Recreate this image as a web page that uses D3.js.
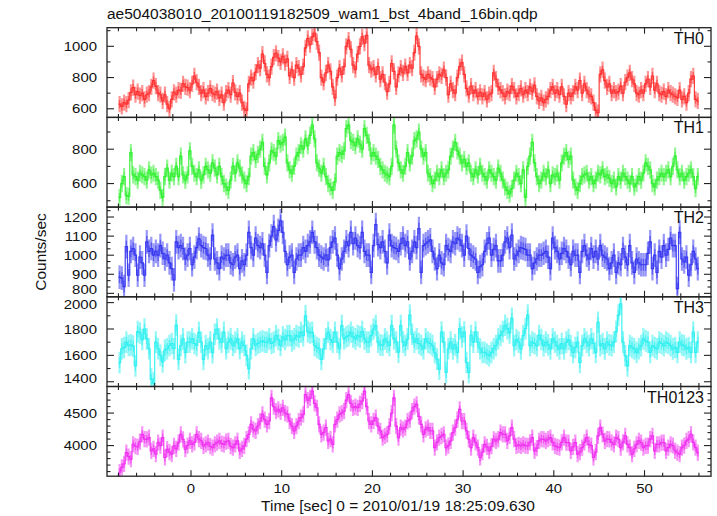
<!DOCTYPE html>
<html><head><meta charset="utf-8">
<script src="https://cdn.jsdelivr.net/npm/d3@7"></script>
<style>
body{margin:0;background:#fff;}
text{font-family:"Liberation Sans",Arial,Helvetica,sans-serif;fill:#111;}
</style></head>
<body><svg id="c" width="717" height="516"></svg>
<script>
// time bins: 0.25 s each, first bin centre at -7.875 s
const binStart = -7.875;
const binWidth = 0.25;
const panelNames = ["TH0", "TH1", "TH2", "TH3", "TH0123"];
const panelColors = ["#ff2a2a", "#2af02a", "#3030f0", "#2af0f0", "#f02af0"];
const yRanges = [[545, 1119], [463, 985], [782, 1252], [1364, 2044], [3529, 4909]];
const majorSteps = [200, 200, 100, 200, 500];
const minorSteps = [100, 100, 100 / 3, 100, 100];
const errTH0 = 52, errTH1 = 50, errTH2 = 62, errTH3 = 82, errTH0123 = 125;
const xMajorTicks = [0, 10, 20, 30, 40, 50];

const TH0 = [
630,615,640,630,655,705,735,690,710,685,700,660,690,700,740,780,
745,700,690,650,690,630,600,660,705,690,720,715,760,740,735,720,
760,810,770,740,700,720,680,700,730,700,690,710,670,690,640,700,
720,690,765,705,680,700,640,600,590,760,800,780,835,880,860,950,
890,820,800,870,930,955,925,900,935,895,920,810,850,800,880,860,
820,870,990,1050,1010,1060,1085,1030,960,800,770,830,880,840,740,670,
800,860,820,870,1000,1040,980,880,850,950,1000,1060,1020,1070,880,850,
860,820,870,790,820,770,710,760,890,840,740,820,860,830,870,830,
880,860,960,1065,1000,820,800,790,820,800,790,740,790,820,810,850,
800,690,760,720,700,800,870,895,820,730,690,745,700,720,680,705,
680,700,660,690,700,830,790,740,720,700,680,710,700,745,720,680,
700,730,690,720,700,740,710,750,680,650,670,640,660,680,720,740,
700,720,690,740,680,630,700,680,700,740,720,780,700,760,720,690,
680,640,590,575,820,850,780,740,760,700,720,700,710,745,700,770,
800,830,790,760,700,690,720,700,760,790,740,810,720,760,700,690,
710,680,720,700,690,680,670,720,660,680,640,700,790,810,660,650];

const TH1 = [
520,600,640,530,525,780,650,640,620,660,650,640,620,680,650,660,
640,620,560,520,640,690,620,660,640,700,640,760,650,620,650,790,
700,660,640,680,620,650,700,680,660,720,690,650,700,640,600,580,
560,620,700,660,720,690,650,620,600,640,760,780,740,770,800,840,
700,650,720,790,780,760,850,830,840,870,720,680,660,700,760,780,
820,800,860,820,880,940,860,720,690,660,700,640,600,580,560,610,
760,780,770,790,920,940,850,840,820,860,830,800,920,880,840,760,
780,760,740,700,680,660,650,640,700,940,800,720,680,660,700,780,
720,760,850,860,900,800,760,780,660,640,600,620,660,640,680,640,
660,680,760,800,840,790,760,720,740,700,720,660,640,680,650,700,
660,640,620,680,660,640,620,690,660,620,580,560,540,570,620,660,
640,600,680,520,700,760,840,720,640,600,620,660,640,680,600,650,
640,660,620,720,760,780,740,760,620,580,560,600,640,650,660,620,
640,600,620,660,650,680,640,650,630,600,620,580,640,620,660,640,
620,600,640,580,600,640,620,660,720,700,680,600,580,620,640,660,
640,660,680,640,700,760,680,640,660,620,640,660,680,640,570,640];

const TH2 = [
885,880,835,1045,895,1020,1035,1000,895,990,960,895,1070,1020,1035,1000,
1020,1000,1050,1010,980,1000,960,930,870,1070,1040,1050,1035,980,1000,1035,
950,990,1040,1085,1050,1040,1035,1000,980,1105,980,960,930,990,980,1000,
1000,960,950,990,1000,930,970,950,1000,1120,1040,1000,1090,1050,1040,1060,
1000,910,1050,1100,1150,1080,1130,1180,1120,1020,950,990,1000,910,980,1000,
1000,1040,1020,1050,1070,1120,1070,1040,1000,990,980,1000,975,1040,1070,1090,
1000,930,980,1020,1070,1050,1120,1060,1090,1050,1040,1120,1020,1000,1000,910,
1050,1160,1055,1040,1070,1020,960,1105,1050,1040,1035,1020,1060,1090,1050,1070,
980,1020,1070,1040,1140,910,1050,1060,1070,1080,1020,980,930,1000,960,950,
1050,1030,1020,1070,1060,1090,1080,1050,1000,1100,1035,1000,990,980,910,940,
950,1020,1060,1090,1000,1030,1050,970,970,1000,1070,1090,1040,1105,980,1000,
1020,1040,1035,1030,1000,1000,930,960,980,1000,1000,1010,1020,990,930,1090,
1040,1020,980,1010,1035,1020,990,950,1020,1000,1000,910,1020,1050,1000,980,
1035,990,1020,980,1050,1000,990,980,930,960,1000,910,960,950,1035,990,
950,1050,960,910,980,960,950,950,950,1010,1070,930,1000,910,1020,990,
1050,1000,1030,1090,1050,1050,825,1120,980,965,990,895,950,1020,980,930];

const TH3 = [
1545,1650,1660,1700,1675,1680,1670,1520,1780,1770,1720,1800,1725,1650,1420,1390,
1700,1650,1600,1550,1640,1650,1675,1690,1650,1830,1570,1675,1725,1620,1700,1700,
1725,1690,1675,1775,1700,1570,1675,1650,1700,1620,1760,1800,1725,1700,1775,1650,
1700,1725,1675,1700,1725,1650,1700,1675,1600,1500,1650,1725,1675,1690,1700,1710,
1700,1700,1725,1690,1700,1750,1720,1675,1740,1720,1750,1750,1710,1725,1750,1740,
1775,1750,1900,1780,1770,1775,1675,1660,1650,1570,1650,1725,1775,1720,1700,1775,
1700,1650,1825,1725,1740,1750,1775,1740,1725,1750,1740,1780,1725,1700,1700,1750,
1800,1825,1700,1680,1675,1725,1700,1675,1825,1725,1700,1625,1825,1700,1675,1725,
1905,1760,1700,1725,1690,1675,1650,1726,1700,1690,1674,1620,1572,1495,1777,1700,
1470,1650,1700,1649,1680,1623,1803,1740,1777,1546,1470,1751,1700,1777,1700,1650,
1623,1623,1610,1597,1623,1650,1674,1726,1751,1780,1828,1803,1770,1880,1674,1720,
1700,1649,1750,1803,1905,1674,1700,1690,1674,1751,1720,1674,1700,1680,1649,1726,
1700,1674,1649,1690,1649,1700,1720,1674,1623,1660,1700,1546,1674,1726,1700,1674,
1726,1690,1623,1850,1674,1690,1649,1700,1680,1674,1700,1780,1905,1990,1700,1597,
1520,1674,1660,1649,1623,1650,1674,1726,1710,1700,1623,1674,1660,1649,1700,1690,
1674,1700,1690,1674,1649,1660,1623,1700,1680,1674,1649,1660,1623,1777,1623,1700];

const TH0123 = [
3590,3664,3720,3893,3830,3791,4020,3990,3980,4060,4174,4100,4097,4123,3919,3950,
3868,4046,4000,4123,3817,3944,3900,3868,3995,3950,4046,4174,4097,3944,4000,4072,
4020,4050,4174,4100,4072,3995,4020,4046,3990,3970,4020,4046,4072,4030,4020,4060,
4072,3990,3970,4020,4072,3919,3950,3995,4100,4174,4327,4250,4225,4300,4378,4480,
4400,4327,4378,4735,4600,4531,4556,4520,4582,4500,4480,4378,4300,4225,4300,4378,
4430,4480,4786,4700,4735,4837,4650,4582,4327,4174,4200,4276,4072,4100,4020,4327,
4400,4480,4500,4531,4700,4786,4650,4582,4600,4582,4640,4684,4837,4600,4378,4327,
4380,4429,4300,4225,4123,4150,4174,4300,4500,4735,4300,4123,4276,4250,4276,4378,
4400,4531,4600,4633,4450,4327,4174,4250,4276,4225,4225,3970,4050,4123,4150,4174,
3970,4000,4072,4200,4276,4400,4556,4378,4378,4225,4100,3970,4123,4050,3970,3817,
3900,4020,3980,3919,3990,4097,4072,4100,4200,4174,4174,4072,4150,4276,4100,3995,
4010,3995,4020,4000,3995,4050,4123,3919,3960,4072,4100,4097,4072,4100,4123,4050,
3995,3980,3970,4050,4123,4046,4046,3919,3980,4046,3868,3900,3970,4050,4123,4020,
4000,3817,3900,4150,4276,4174,4072,4100,4097,4050,4020,4123,4100,3970,4050,4148,
4020,3970,3868,3950,4020,4072,4046,3970,3995,4000,4100,4148,3919,4020,4020,4046,
4046,3919,3970,4020,4000,3919,3890,3868,3970,4000,4072,4100,4174,4050,3970,3893];

const seriesList = [TH0, TH1, TH2, TH3, TH0123];
const errList = [errTH0, errTH1, errTH2, errTH3, errTH0123];

const svg = d3.select("#c");
const L = 107, R = 711, T = 27.7, B = 476.2;
const nP = panelNames.length;
const pH = (B - T) / nP;
const x = d3.scaleLinear().domain([-9.26, 57.33]).range([L, R]);

const xMinor = d3.range(-8, 57, 2);

function ticksIn(lo, hi, step) {
  const out = [];
  const s = Math.ceil(lo / step - 1e-6);
  for (let k = s; k * step <= hi + 1e-6; k++) out.push(k * step);
  return out;
}

seriesList.forEach((vals, p) => {
  const top = T + p * pH, bot = top + pH;
  const y = d3.scaleLinear().domain(yRanges[p]).range([bot, top]);
  const g = svg.append("g");
  const col = panelColors[p];
  const err = errList[p];
  const data = vals.map((v, i) => ({t: binStart + i * binWidth, v}));

  const clipId = "clip" + p;
  svg.append("clipPath").attr("id", clipId).append("rect")
    .attr("x", L).attr("y", top).attr("width", R - L).attr("height", pH);
  const dg = g.append("g").attr("clip-path", `url(#${clipId})`);

  // error bars (light)
  dg.selectAll("line.e").data(data).join("line")
    .attr("x1", d => x(d.t)).attr("x2", d => x(d.t))
    .attr("y1", d => y(d.v - err)).attr("y2", d => y(d.v + err))
    .attr("stroke", col).attr("stroke-opacity", 0.5).attr("stroke-width", 2.2);
  // inner darker part of error bars
  dg.selectAll("line.c").data(data).join("line")
    .attr("x1", d => x(d.t)).attr("x2", d => x(d.t))
    .attr("y1", d => y(d.v - err * 0.5)).attr("y2", d => y(d.v + err * 0.5))
    .attr("stroke", col).attr("stroke-opacity", 0.6).attr("stroke-width", 1.4);
  // step trace through bins
  const line = d3.line().x(d => x(d[0])).y(d => y(d[1]));
  const pts = [];
  data.forEach(d => { pts.push([d.t - binWidth / 2, d.v]); pts.push([d.t + binWidth / 2, d.v]); });
  dg.append("path").attr("d", line(pts)).attr("fill", "none")
    .attr("stroke", col).attr("stroke-width", 1.2).attr("stroke-opacity", 0.9);

  // frame
  g.append("rect").attr("x", L).attr("y", top).attr("width", R - L).attr("height", pH)
    .attr("fill", "none").attr("stroke", "#222").attr("stroke-width", 1.3);

  // x ticks top and bottom
  const tk = g.append("g").attr("stroke", "#222").attr("stroke-width", 1.1);
  xMinor.forEach(t => {
    const len = (t % 10 === 0) ? 6 : 3.5;
    tk.append("line").attr("x1", x(t)).attr("x2", x(t)).attr("y1", top).attr("y2", top + len);
    tk.append("line").attr("x1", x(t)).attr("x2", x(t)).attr("y1", bot).attr("y2", bot - len);
  });
  // y ticks
  const [lo, hi] = yRanges[p];
  ticksIn(lo, hi, minorSteps[p]).forEach(v => {
    const yy = y(v);
    if (yy < top + 2 || yy > bot - 2) return;
    const major = Math.abs(v / majorSteps[p] - Math.round(v / majorSteps[p])) < 1e-6;
    const len = major ? 7 : 3.5;
    tk.append("line").attr("x1", L).attr("x2", L + len).attr("y1", yy).attr("y2", yy);
    tk.append("line").attr("x1", R).attr("x2", R - len).attr("y1", yy).attr("y2", yy);
  });
  ticksIn(lo, hi, majorSteps[p]).forEach(v => {
    let yy = y(v);
    if (yy > bot - 6) yy -= 3.6;
    if (yy < top + 8) yy += 2.2;
    g.append("text").attr("transform", `translate(97,${yy}) scale(1.15,1)`)
      .attr("dy", "0.36em").attr("text-anchor", "end").attr("font-size", 13).text(v);
  });
  g.append("text").attr("x", 704).attr("y", top + 16)
    .attr("text-anchor", "end").attr("font-size", 16).text(panelNames[p]);

  if (p === nP - 1) {
    xMajorTicks.forEach(t => {
      g.append("text").attr("transform", `translate(${x(t)},493) scale(1.15,1)`)
        .attr("text-anchor", "middle").attr("font-size", 13).text(t);
    });
  }
});

svg.append("text").attr("x", 107).attr("y", 19).attr("font-size", 15.5)
  .text("ae504038010_20100119182509_wam1_bst_4band_16bin.qdp");
svg.append("text").attr("x", 398).attr("y", 511).attr("text-anchor", "middle").attr("font-size", 15.5)
  .text("Time [sec] 0 = 2010/01/19 18:25:09.630");
svg.append("text").attr("transform", "translate(46,252) rotate(-90)")
  .attr("text-anchor", "middle").attr("font-size", 15.5).text("Counts/sec");
</script></body></html>
